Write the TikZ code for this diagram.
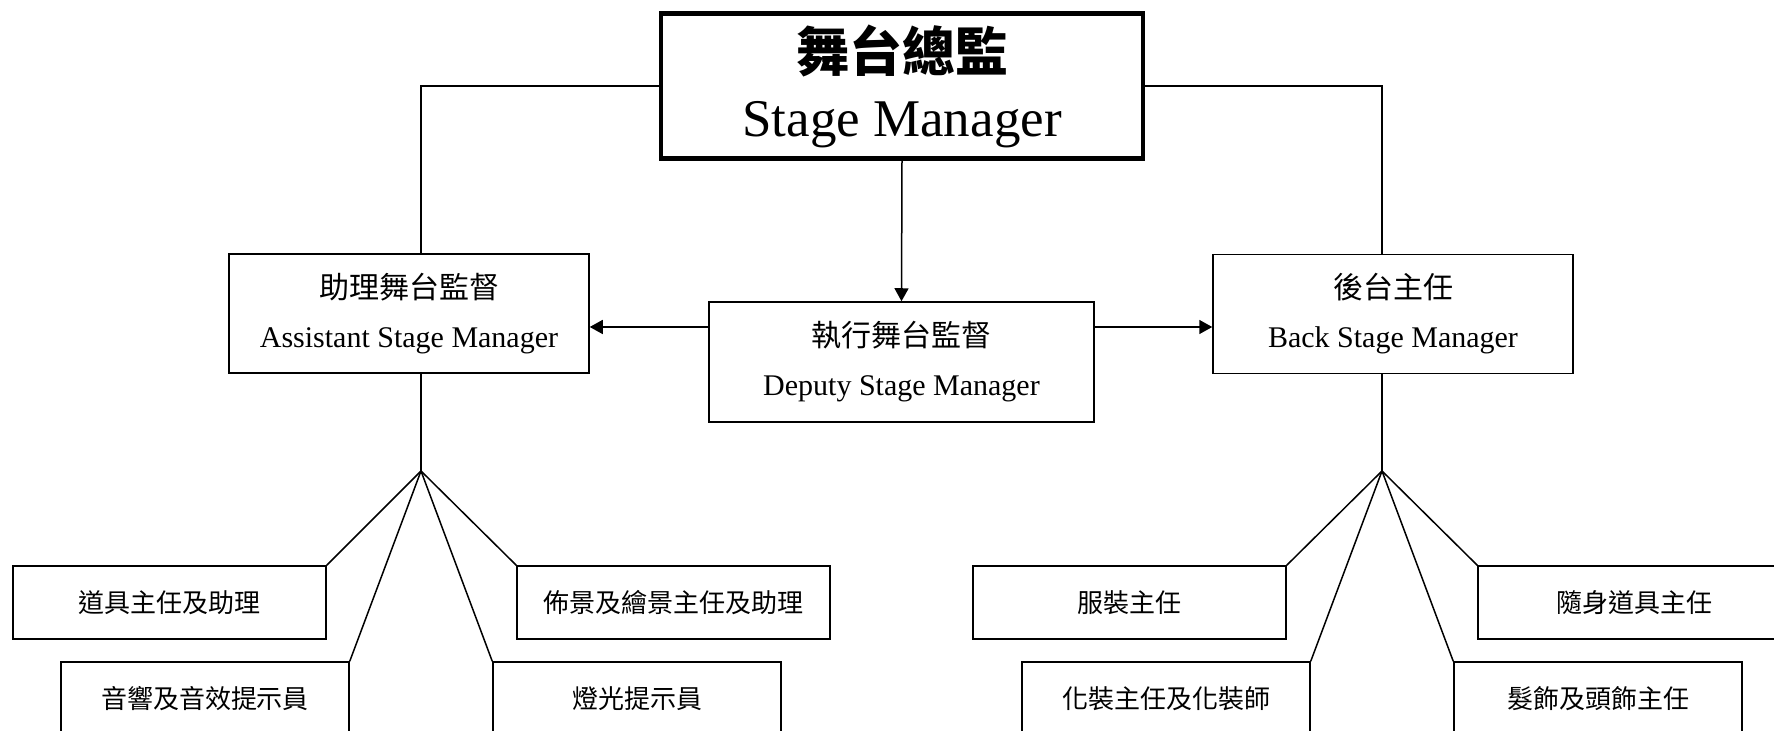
\documentclass[tikz,border=0pt]{standalone}
\usepackage{fontspec}
\setmainfont{Liberation Serif}
\newfontfamily\cjk{Noto Sans CJK TC}
\usepackage{tikz}
\usetikzlibrary{positioning,arrows.meta}

\begin{document}
\begin{tikzpicture}[
			x=0.5pt, y=-0.5pt,
			bossnode/.style={rectangle, draw, line width=2.2pt, minimum width=241pt, minimum height=72.5pt, align=center, inner sep=0pt, font=\fontsize{26.5}{32.5}\selectfont},
			leadnode/.style={rectangle, draw, line width=0.75pt, minimum width=180pt, minimum height=59.5pt, align=center, inner sep=0pt, font=\fontsize{15}{24.5}\selectfont},
			crewnode/.style={rectangle, draw, line width=0.75pt, minimum width=156.5pt, minimum height=36.5pt, inner sep=0pt, font=\cjk\fontsize{13}{15}\selectfont},
			shortcrew/.style={crewnode, minimum width=144pt},
			link/.style={line width=0.75pt},
			arrow/.style={link, -{Triangle[length=6.5pt,width=7pt]}},
			]
			\useasboundingbox (0,0) rectangle (1774,731);
			%Nodes
			\node[bossnode] (boss) at (902,86)     {{\cjk\bfseries 舞台總監}\\Stage Manager};
			\node[leadnode] (asm)  at (409,313.5)  {{\cjk 助理舞台監督}\\Assistant Stage Manager};
			\node[leadnode, minimum width=192.5pt, minimum height=60pt] (dsm) at (901.5,362) {{\cjk 執行舞台監督}\\Deputy Stage Manager};
			\node[leadnode] (bsm)  at (1393,314)   {{\cjk 後台主任}\\Back Stage Manager};

			\node[crewnode]  (prop)  at (169.5,602.5) {道具主任及助理};
			\node[crewnode]  (scene) at (673.5,602.5) {佈景及繪景主任及助理};
			\node[shortcrew] (sound) at (205,698.5)   {音響及音效提示員};
			\node[shortcrew] (light) at (637,698.5)   {燈光提示員};

			\node[crewnode]  (cost)  at (1129.5,602.5) {服裝主任};
			\node[crewnode]  (hand)  at (1634.5,602.5) {隨身道具主任};
			\node[shortcrew] (make)  at (1166,698.5)   {化裝主任及化裝師};
			\node[shortcrew] (hair)  at (1598,698.5)   {髮飾及頭飾主任};

			\coordinate (fanL) at (421,471);
			\coordinate (fanR) at (1382,471);
			\coordinate (lvl)  at (0,327);

			%Lines
			\draw[link] (boss.west) -| (asm.north -| fanL);
			\draw[link] (boss.east) -| (bsm.north -| fanR);
			\draw[arrow] (boss.south) -- (dsm.north);
			\draw[arrow] (dsm.west |- lvl) -- (asm.east |- lvl);
			\draw[arrow] (dsm.east |- lvl) -- (bsm.west |- lvl);

			\draw[link] (asm.south -| fanL) -- (fanL);
			\draw[link] (fanL) -- (prop.north east);
			\draw[link] (fanL) -- (scene.north west);
			\draw[link] (fanL) -- (sound.north east);
			\draw[link] (fanL) -- (light.north west);

			\draw[link] (bsm.south -| fanR) -- (fanR);
			\draw[link] (fanR) -- (cost.north east);
			\draw[link] (fanR) -- (hand.north west);
			\draw[link] (fanR) -- (make.north east);
			\draw[link] (fanR) -- (hair.north west);
		\end{tikzpicture}
\end{document}
